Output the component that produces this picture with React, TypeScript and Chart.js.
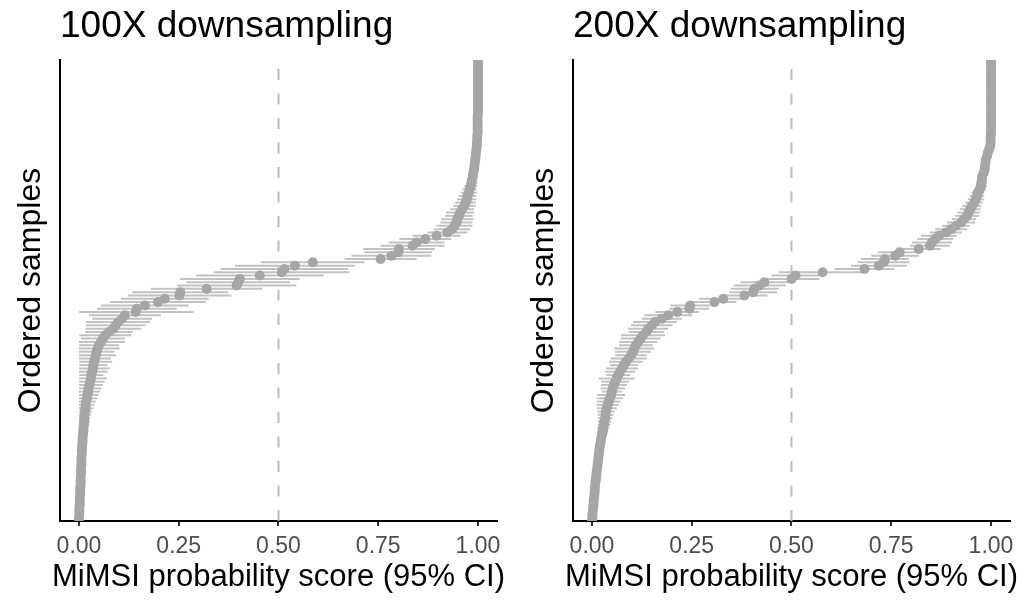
import React, { useEffect, useRef } from 'react';
import { Chart, registerables } from 'chart.js';

Chart.register(...registerables);

const FONT = "'Liberation Sans', Arial, Helvetica, sans-serif";

const panelTitles = ['100X downsampling', '200X downsampling'];
const xAxisTitle = 'MiMSI probability score (95% CI)';
const yAxisTitle = 'Ordered samples';
const xTickValues = [0, 0.25, 0.5, 0.75, 1];
const threshold = 0.5;

// 100X downsampling: ordered MiMSI scores (bottom to top) and 95% CI half-widths
const scores100 = [
  0.000, 0.000, 0.001, 0.001, 0.001, 0.002, 0.002, 0.002, 0.003, 0.003,
  0.003, 0.004, 0.004, 0.004, 0.005, 0.005, 0.005, 0.006, 0.006, 0.006,
  0.007, 0.007, 0.008, 0.008, 0.009, 0.009, 0.010, 0.011, 0.011, 0.012,
  0.013, 0.013, 0.014, 0.015, 0.016, 0.017, 0.018, 0.020, 0.021, 0.023,
  0.024, 0.026, 0.028, 0.030, 0.031, 0.033, 0.035, 0.036, 0.038, 0.040,
  0.042, 0.044, 0.047, 0.050, 0.055, 0.060, 0.066, 0.075, 0.086, 0.092,
  0.098, 0.108, 0.115, 0.142, 0.145, 0.165, 0.198, 0.215, 0.252, 0.254,
  0.320, 0.395, 0.399, 0.403, 0.453, 0.508, 0.515, 0.541, 0.586, 0.756,
  0.783, 0.800, 0.802, 0.836, 0.846, 0.868, 0.896, 0.923, 0.935, 0.941,
  0.946, 0.948, 0.952, 0.955, 0.960, 0.966, 0.969, 0.972, 0.974, 0.977,
  0.979, 0.982, 0.984, 0.985, 0.987, 0.988, 0.990, 0.991, 0.992, 0.993,
  0.994, 0.995, 0.996, 0.997, 0.997, 0.998, 0.998, 0.999, 0.999, 0.999,
  0.999, 0.999, 0.999, 1.000, 1.000, 1.000, 1.000, 1.000, 1.000, 1.000,
  1.000, 1.000, 1.000, 1.000, 1.000, 1.000, 1.000, 1.000, 1.000, 1.000,
];
const ciHalf100 = [
  0.002, 0.002, 0.002, 0.003, 0.003, 0.003, 0.003, 0.004, 0.004, 0.004,
  0.004, 0.005, 0.005, 0.005, 0.006, 0.006, 0.006, 0.007, 0.007, 0.007,
  0.008, 0.008, 0.009, 0.009, 0.010, 0.010, 0.011, 0.012, 0.012, 0.013,
  0.014, 0.015, 0.016, 0.018, 0.020, 0.022, 0.024, 0.026, 0.028, 0.030,
  0.032, 0.034, 0.036, 0.040, 0.030, 0.038, 0.042, 0.035, 0.045, 0.040,
  0.050, 0.045, 0.055, 0.050, 0.060, 0.055, 0.065, 0.060, 0.070, 0.075,
  0.080, 0.075, 0.090, 0.145, 0.100, 0.110, 0.120, 0.110, 0.130, 0.120,
  0.140, 0.150, 0.130, 0.150, 0.160, 0.170, 0.160, 0.150, 0.130, 0.090,
  0.100, 0.085, 0.090, 0.080, 0.070, 0.065, 0.060, 0.050, 0.045, 0.045,
  0.040, 0.040, 0.035, 0.035, 0.030, 0.028, 0.026, 0.024, 0.022, 0.020,
  0.018, 0.016, 0.014, 0.013, 0.012, 0.011, 0.010, 0.009, 0.008, 0.007,
  0.006, 0.005, 0.005, 0.004, 0.004, 0.003, 0.003, 0.002, 0.002, 0.002,
  0.001, 0.001, 0.001, 0.001, 0.001, 0.001, 0.001, 0.001, 0.001, 0.001,
  0.001, 0.001, 0.001, 0.001, 0.001, 0.001, 0.001, 0.001, 0.001, 0.001,
];

// 200X downsampling
const scores200 = [
  0.000, 0.001, 0.001, 0.002, 0.003, 0.004, 0.004, 0.005, 0.006, 0.007,
  0.007, 0.008, 0.009, 0.010, 0.011, 0.012, 0.013, 0.014, 0.015, 0.016,
  0.017, 0.018, 0.019, 0.020, 0.022, 0.023, 0.025, 0.027, 0.028, 0.030,
  0.031, 0.033, 0.034, 0.035, 0.037, 0.039, 0.042, 0.045, 0.048, 0.050,
  0.052, 0.055, 0.058, 0.062, 0.066, 0.070, 0.075, 0.080, 0.085, 0.092,
  0.098, 0.103, 0.106, 0.110, 0.116, 0.122, 0.128, 0.136, 0.141, 0.150,
  0.158, 0.175, 0.191, 0.214, 0.244, 0.246, 0.307, 0.329, 0.382, 0.404,
  0.407, 0.420, 0.432, 0.500, 0.510, 0.578, 0.683, 0.719, 0.731, 0.734,
  0.760, 0.771, 0.819, 0.847, 0.852, 0.860, 0.870, 0.887, 0.900, 0.912,
  0.925, 0.932, 0.940, 0.944, 0.948, 0.952, 0.958, 0.962, 0.965, 0.967,
  0.972, 0.975, 0.976, 0.977, 0.978, 0.982, 0.984, 0.985, 0.986, 0.987,
  0.990, 0.992, 0.995, 0.998, 0.999, 0.999, 0.999, 1.000, 1.000, 1.000,
  1.000, 1.000, 1.000, 1.000, 1.000, 1.000, 1.000, 1.000, 1.000, 1.000,
  1.000, 1.000, 1.000, 1.000, 1.000, 1.000, 1.000, 1.000, 1.000, 1.000,
];
const ciHalf200 = [
  0.002, 0.002, 0.002, 0.003, 0.003, 0.003, 0.004, 0.004, 0.004, 0.005,
  0.005, 0.005, 0.006, 0.006, 0.006, 0.007, 0.007, 0.008, 0.008, 0.009,
  0.009, 0.010, 0.010, 0.011, 0.012, 0.012, 0.013, 0.014, 0.015, 0.016,
  0.017, 0.018, 0.020, 0.022, 0.025, 0.028, 0.030, 0.033, 0.035, 0.025,
  0.030, 0.032, 0.035, 0.045, 0.030, 0.038, 0.040, 0.035, 0.042, 0.045,
  0.040, 0.045, 0.050, 0.042, 0.048, 0.050, 0.055, 0.045, 0.050, 0.052,
  0.055, 0.050, 0.060, 0.055, 0.050, 0.050, 0.055, 0.060, 0.058, 0.060,
  0.060, 0.065, 0.060, 0.070, 0.060, 0.110, 0.075, 0.070, 0.065, 0.060,
  0.060, 0.055, 0.055, 0.050, 0.050, 0.045, 0.045, 0.040, 0.040, 0.035,
  0.035, 0.030, 0.030, 0.028, 0.026, 0.024, 0.022, 0.020, 0.018, 0.016,
  0.015, 0.014, 0.013, 0.012, 0.011, 0.010, 0.009, 0.008, 0.007, 0.006,
  0.005, 0.005, 0.004, 0.003, 0.002, 0.002, 0.002, 0.001, 0.001, 0.001,
  0.001, 0.001, 0.001, 0.001, 0.001, 0.001, 0.001, 0.001, 0.001, 0.001,
  0.001, 0.001, 0.001, 0.001, 0.001, 0.001, 0.001, 0.001, 0.001, 0.001,
];

const errorBarPlugin = {
  id: 'errorBars',
  beforeDatasetsDraw(chart: any, _args: any, opts: any) {
    const { ctx, chartArea, scales } = chart;
    const xs = scales.x;
    const ys = scales.y;
    const bars = opts.bars || [];
    ctx.save();
    ctx.beginPath();
    ctx.rect(chartArea.left, chartArea.top, chartArea.right - chartArea.left, chartArea.bottom - chartArea.top);
    ctx.clip();
    ctx.strokeStyle = '#c2c2c2';
    ctx.lineWidth = 2;
    ctx.lineCap = 'butt';
    for (const b of bars) {
      const py = ys.getPixelForValue(b.y);
      ctx.beginPath();
      ctx.moveTo(xs.getPixelForValue(b.lo), py);
      ctx.lineTo(xs.getPixelForValue(b.hi), py);
      ctx.stroke();
    }
    ctx.restore();
  },
};

// x-axis title drawn without Chart.js' max-width squeeze (it is wider than the axis)
const xTitlePlugin = {
  id: 'xTitle',
  afterDraw(chart: any, _args: any, opts: any) {
    const { ctx, scales } = chart;
    const xs = scales.x;
    ctx.save();
    ctx.font = `31px ${FONT}`;
    ctx.fillStyle = '#000';
    ctx.textAlign = 'center';
    ctx.textBaseline = 'alphabetic';
    ctx.fillText(opts.text, (xs.left + xs.right) / 2, 586);
    ctx.restore();
  },
};

function Panel({ title, scores, ciHalf }: { title: string; scores: number[]; ciHalf: number[] }) {
  const ref = useRef<HTMLCanvasElement>(null);
  useEffect(() => {
    if (!ref.current) return;
    const n = scores.length;
    const points = scores.map((s, i) => ({ x: s, y: i + 1 }));
    const bars = scores.map((s, i) => ({
      y: i + 1,
      lo: Math.max(0, s - ciHalf[i]),
      hi: Math.min(1, s + ciHalf[i]),
    }));
    const chart = new Chart(ref.current, {
      type: 'scatter',
      data: {
        datasets: [
          {
            type: 'line',
            data: [
              { x: threshold, y: 1 },
              { x: threshold, y: n },
            ],
            borderColor: '#bdbdbd',
            borderWidth: 2,
            borderDash: [11, 13.5],
            pointRadius: 0,
            fill: false,
            order: 2,
          } as any,
          {
            data: points,
            pointRadius: 5,
            pointHoverRadius: 5,
            backgroundColor: '#a6a6a6',
            borderWidth: 0,
            order: 1,
          },
        ],
      },
      options: {
        responsive: false,
        animation: false,
        events: [],
        layout: { padding: { left: 0, right: 16, top: 0, bottom: 0 } },
        plugins: {
          legend: { display: false },
          tooltip: { enabled: false },
          title: {
            display: true,
            text: title,
            align: 'start',
            fullSize: false,
            color: '#000',
            font: { family: FONT, size: 37, weight: 'normal' },
            padding: { top: 5, bottom: 10.6 },
          },
          errorBars: { bars },
          xTitle: { text: xAxisTitle },
        } as any,
        scales: {
          x: {
            type: 'linear',
            min: -0.0476,
            max: 1.0476,
            afterBuildTicks: (s: any) => {
              s.ticks = xTickValues.map((v) => ({ value: v }));
            },
            afterFit: (s: any) => {
              s.height = 80;
            },
            ticks: {
              color: '#4d4d4d',
              font: { family: FONT, size: 23 },
              padding: 7,
              maxRotation: 0,
              autoSkip: false,
              callback: (v: any) => Number(v).toFixed(2),
            },
            grid: {
              display: true,
              drawOnChartArea: false,
              drawTicks: true,
              tickLength: 5,
              color: '#333333',
              lineWidth: 2,
            },
            border: { display: true, color: '#000', width: 2 },
            title: { display: false },
          },
          y: {
            type: 'linear',
            min: 1,
            max: n,
            afterFit: (s: any) => {
              s.width = 60;
            },
            ticks: { display: false },
            grid: { display: false },
            border: { display: true, color: '#000', width: 2 },
            title: {
              display: true,
              text: yAxisTitle,
              color: '#000',
              font: { family: FONT, size: 32 },
              padding: { top: 12, bottom: 0 },
            },
          },
        },
      } as any,
      plugins: [errorBarPlugin, xTitlePlugin],
    });
    return () => chart.destroy();
  }, [title, scores, ciHalf]);
  return <canvas ref={ref} width={513} height={601} style={{ display: 'block', width: 513, height: 601 }} />;
}

export default function App() {
  return (
    <div
      style={{
        position: 'fixed',
        left: 0,
        top: 0,
        width: 1026,
        height: 601,
        background: '#fff',
        display: 'flex',
      }}
    >
      <Panel title={panelTitles[0]} scores={scores100} ciHalf={ciHalf100} />
      <Panel title={panelTitles[1]} scores={scores200} ciHalf={ciHalf200} />
    </div>
  );
}
